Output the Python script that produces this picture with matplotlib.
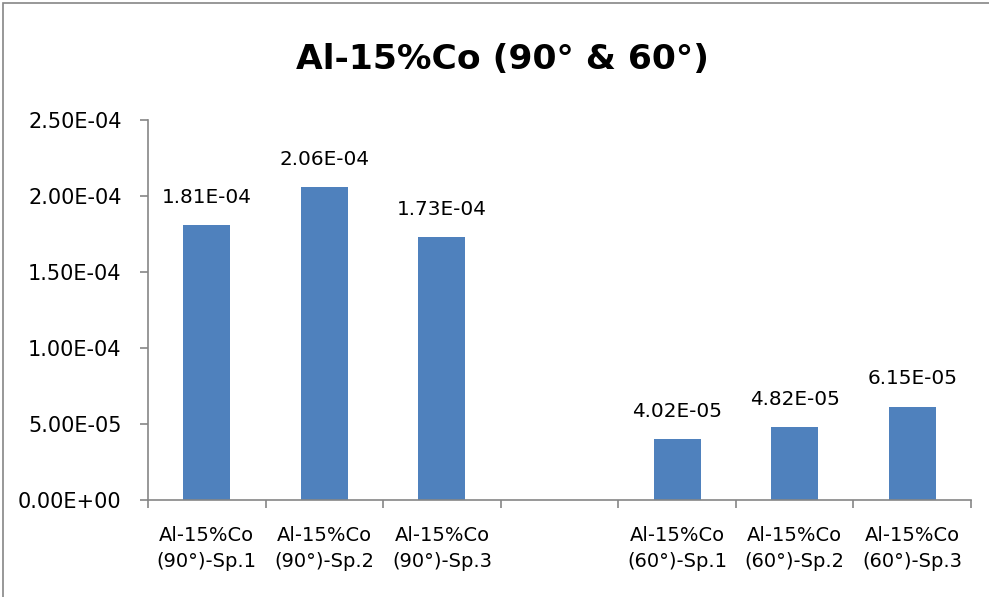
import numpy as np
import matplotlib
matplotlib.use("Agg")
import matplotlib.pyplot as plt
from matplotlib.patches import Rectangle

categories = [
    "Al-15%Co\n(90°)-Sp.1", "Al-15%Co\n(90°)-Sp.2", "Al-15%Co\n(90°)-Sp.3", "",
    "Al-15%Co\n(60°)-Sp.1", "Al-15%Co\n(60°)-Sp.2", "Al-15%Co\n(60°)-Sp.3",
]
values = [1.81e-4, 2.06e-4, 1.73e-4, np.nan, 4.02e-5, 4.82e-5, 6.15e-5]
value_labels = ["1.81E-04", "2.06E-04", "1.73E-04", "", "4.02E-05", "4.82E-05", "6.15E-05"]
y_ticks = [0, 5e-5, 1e-4, 1.5e-4, 2e-4, 2.5e-4]
y_tick_labels = ["0.00E+00", "5.00E-05", "1.00E-04", "1.50E-04", "2.00E-04", "2.50E-04"]
title = "Al-15%Co (90° & 60°)"

plt.rcParams["font.family"] = ["DejaVu Sans"]

W, H = 989, 597
fig = plt.figure(figsize=(W / 100, H / 100), dpi=100)
fig.patch.set_facecolor("white")

# outer chart frame
fig.add_artist(Rectangle((3 / W, -0.05), 1.2, 1 - 3 / H + 0.05, transform=fig.transFigure,
                         fill=False, edgecolor="#868686", linewidth=1.2))

ax = fig.add_axes([148 / W, 1 - 500 / H, (971 - 148) / W, (500 - 120) / H])
x = np.arange(len(categories))
bar_color = "#4F81BD"
ax.bar(x, values, width=0.4, color=bar_color, zorder=2)

for xi, v, lab in zip(x, values, value_labels):
    if lab:
        ax.annotate(lab, (xi, v), xytext=(0, 16), textcoords="offset points",
                    ha="center", va="baseline", fontsize=14.4, color="black")

ax.set_xlim(-0.5, len(categories) - 0.5)
ax.set_ylim(0, 2.5e-4)
ax.set_yticks(y_ticks)
ax.set_yticklabels(y_tick_labels, fontsize=15)

ax.set_xticks(x)
ax.set_xticklabels(categories, fontsize=14, linespacing=1.5)
ax.tick_params(axis="x", length=0, pad=18.5)
# category boundary ticks
ax.set_xticks(np.arange(-0.5, len(categories)), minor=True)
ax.tick_params(axis="x", which="minor", length=6, color="#868686", width=1.2)
ax.tick_params(axis="y", length=6, color="#868686", width=1.2, pad=13)

for s in ["top", "right"]:
    ax.spines[s].set_visible(False)
for s in ["left", "bottom"]:
    ax.spines[s].set_color("#868686")
    ax.spines[s].set_linewidth(1.2)

fig.text(503 / W, 1 - 69 / H, title, ha="center", va="baseline",
         fontsize=24.8, fontweight="bold")

fig.savefig("out.png", dpi=100)
